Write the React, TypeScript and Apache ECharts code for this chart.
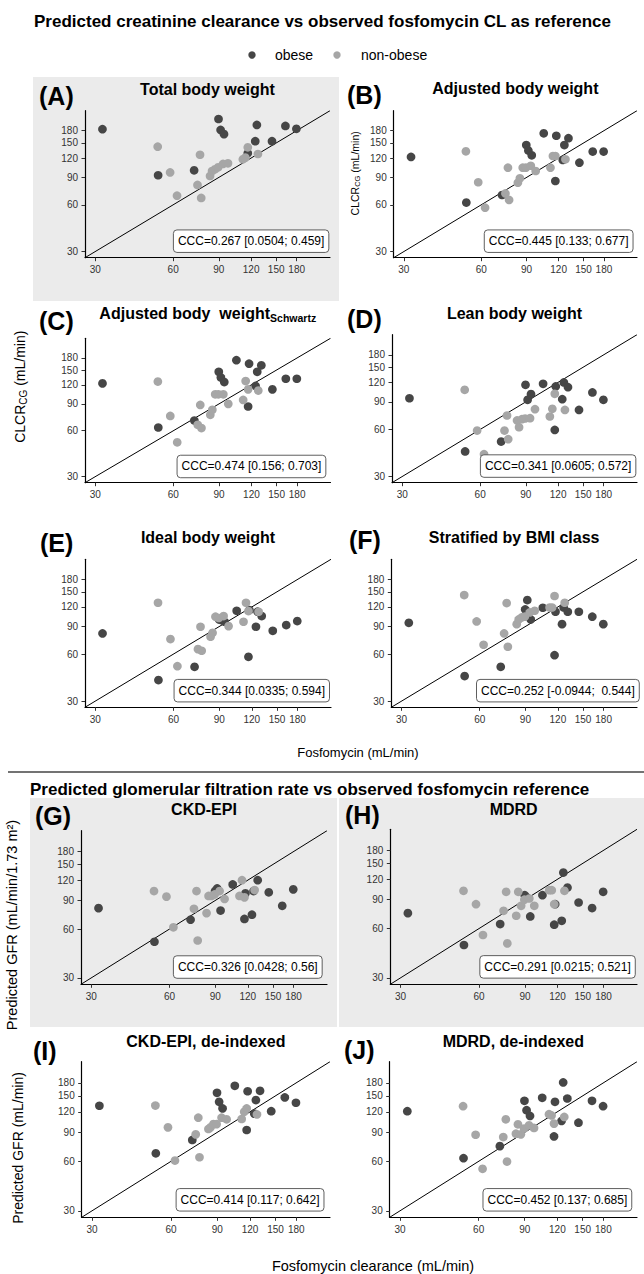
import React, { useEffect, useRef } from "react";
import * as echarts from "echarts";

const FONT = "'Liberation Sans', Arial, Helvetica, sans-serif";
const DARK = "#464646";
const LIGHT = "#a6a6a6";

// Observed fosfomycin clearance (mL/min), x of every panel
const fosfoObese = [32, 52.5, 72.3, 89.8, 91.5, 94.3, 105, 116.5, 117.5, 124.5, 126.3, 131, 144.5, 162.8, 179.5];
const fosfoNonObese = [52.3, 58.4, 62.1, 74.5, 76.2, 77.0, 83.3, 84.8, 87.0, 89.5, 93.5, 97.7, 111.5, 114.0, 116.5, 127.5];

const tickValues = [30, 60, 90, 120, 150, 180];
const axisRange = [27.4, 242];

// (A) Total body weight
const tbwObese = [184, 93, 100, 214, 182, 171, 262, 129, 256, 154, 196, 250, 154, 193, 185];
const tbwNonObese = [142, 97, 68.7, 80.5, 126, 66.4, 92, 99, 101.5, 104.6, 110, 111, 117.7, 120.7, 140.6, 127.4];
// (B) Adjusted body weight
const abwObese = [122, 62, 69.4, 145.5, 134, 125, 173, 85.4, 167, 116.6, 145.5, 161, 112, 132, 132];
const abwNonObese = [132.5, 83.8, 57.5, 71, 104, 64.5, 83.3, 88.9, 104, 104, 107, 99, 104, 123.7, 123.7, 117.8];
// (C) Adjusted body weight Schwartz
const abwsObese = [122.6, 63, 70, 146, 134, 125, 174, 86.5, 165, 118, 146, 161, 112, 131.5, 131.5];
const abwsNonObese = [126, 75, 50.4, 65.7, 88.6, 62.5, 76.3, 82.3, 104, 104, 104, 90, 95.5, 127, 112, 110];
// (D) Lean body weight
const lbwObese = [95, 43.4, 50.2, 115.7, 92.8, 100.9, 117.5, 59.6, 113, 93.7, 119.8, 111.8, 80, 103.4, 92.8];
const lbwNonObese = [107.5, 59, 41.7, 59, 73.7, 52, 68.5, 62, 69.8, 70.5, 70.8, 80.9, 72.6, 81.3, 101.4, 80];
// (E) Ideal body weight
const ibwObese = [81.3, 40.9, 49.7, 99.9, 99, 96.5, 113.5, 57.6, 114.6, 89.7, 112, 105, 84.5, 91.9, 97.5];
const ibwNonObese = [127.7, 74.8, 50.2, 64.5, 89.7, 63, 77.4, 82, 104, 102, 105, 90.5, 96.5, 127.7, 113, 111.8];
// (F) Stratified by BMI class
const bmiObese = [95, 43.4, 49.7, 115.7, 132.8, 99.9, 118.6, 59, 111.8, 93.2, 119, 111.8, 111.8, 104, 93.2];
const bmiNonObese = [143, 97, 68.8, 81.3, 127, 66.8, 93.2, 99.9, 102.9, 104, 110.7, 113.5, 119, 119, 141, 127.7];
// (G) CKD-EPI
const ckdObese = [80.7, 50.1, 68.5, 102.8, 106.7, 78, 112.9, 69.2, 99.5, 73.5, 102.8, 120, 101, 83.4, 105.3];
const ckdNonObese = [102.8, 95, 61.5, 80, 102.8, 51, 75.2, 95.9, 95.9, 98, 102.8, 92, 95.9, 120, 94, 104.3];
// (H) MDRD
const mdrdObese = [74.5, 47.6, 63.9, 95.9, 92.8, 71.1, 95.9, 63.3, 84.5, 66.9, 131.7, 106.7, 86.5, 80, 100.5];
const mdrdNonObese = [101.9, 84.5, 54.8, 77, 100.5, 48.7, 71.8, 100.5, 82.6, 90, 91.5, 82.6, 102.8, 102.8, 84.5, 101.9];
// (I) CKD-EPI, de-indexed
const ckdDeObese = [130.6, 67.1, 80.9, 156.6, 138, 125.8, 172.7, 93, 160, 117, 141.4, 161, 121, 146.8, 136.2];
const ckdDeNonObese = [131, 96.5, 60.6, 87.5, 110.5, 63.5, 94.3, 96.5, 101, 101, 110.5, 108, 108.5, 120, 125.8, 115.7];
// (J) MDRD, de-indexed
const mdrdDeObese = [121, 62.7, 74.2, 140, 122.7, 113.3, 146, 85, 138, 105.6, 181, 144.6, 103, 140, 129.8];
const mdrdDeNonObese = [129.8, 87, 54, 84.3, 108, 59.8, 88.3, 100.7, 87.5, 95, 99.3, 95.7, 116, 114, 101.7, 111.7];

const panelLetters = ["(A)", "(B)", "(C)", "(D)", "(E)", "(F)", "(G)", "(H)", "(I)", "(J)"];
const panelTitles = [
  "Total body weight",
  "Adjusted body weight",
  "Adjusted body  weight",
  "Lean body weight",
  "Ideal body weight",
  "Stratified by BMI class",
  "CKD-EPI",
  "MDRD",
  "CKD-EPI, de-indexed",
  "MDRD, de-indexed",
];
const panelTitleSubs = ["", "", "Schwartz", "", "", "", "", "", "", ""];
const cccTexts = [
  "CCC=0.267 [0.0504; 0.459]",
  "CCC=0.445 [0.133; 0.677]",
  "CCC=0.474 [0.156; 0.703]",
  "CCC=0.341 [0.0605; 0.572]",
  "CCC=0.344 [0.0335; 0.594]",
  "CCC=0.252 [-0.0944;  0.544]",
  "CCC=0.326 [0.0428; 0.56]",
  "CCC=0.291 [0.0215; 0.521]",
  "CCC=0.414 [0.117; 0.642]",
  "CCC=0.452 [0.137; 0.685]",
];
const cccAnchor = [120, 35];
const legendNames = ["obese", "non-obese"];
const mainTitle1 = "Predicted creatinine clearance vs observed fosfomycin CL as reference";
const mainTitle2 = "Predicted glomerular filtration rate vs observed fosfomycin reference";
const xTitle1 = "Fosfomycin (mL/min)";
const xTitle2 = "Fosfomycin clearance (mL/min)";

const panelObese = [tbwObese, abwObese, abwsObese, lbwObese, ibwObese, bmiObese, ckdObese, mdrdObese, ckdDeObese, mdrdDeObese];
const panelNonObese = [tbwNonObese, abwNonObese, abwsNonObese, lbwNonObese, ibwNonObese, bmiNonObese, ckdNonObese, mdrdNonObese, ckdDeNonObese, mdrdDeNonObese];

// layout: [left, top, right, bottom] of each plotting area (px)
const GRIDS = [
  [85, 110.7, 330, 257.7],
  [393.7, 110.7, 637, 257.7],
  [85, 338.3, 330.5, 482.7],
  [392, 334.7, 637, 482.7],
  [85, 559.3, 331, 707.3],
  [391.3, 559.3, 637, 707.3],
  [81, 830.7, 327, 984.3],
  [390.3, 829.3, 637, 984.3],
  [81.7, 1061.7, 330, 1217.3],
  [389.7, 1061.7, 637, 1217.3],
];
const LETTER_POS = [
  [39, 96], [347, 94.5], [39, 320.5], [347, 319], [40, 542.5],
  [349, 539.5], [35, 816], [345, 815], [33, 1051], [344, 1050],
];
const TITLE_Y = [89, 88.3, 313.7, 313.5, 537.3, 537.3, 809, 809, 1041, 1041];
const GRAY_BOXES = [
  [33, 77, 306, 224],
  [30, 798, 307, 229],
  [339, 798, 305, 229],
];

let measureCtx: CanvasRenderingContext2D | null = null;
function textWidth(t: string, size: number, bold = false) {
  if (!measureCtx) measureCtx = document.createElement("canvas").getContext("2d");
  if (!measureCtx) return t.length * size * 0.55;
  measureCtx.font = `${bold ? "bold " : ""}${size}px ${FONT}`;
  return measureCtx.measureText(t).width;
}

function txt(x: number, y: number, text: string, size: number, opts: any = {}) {
  const align = opts.align || "left";
  return {
    type: "text",
    x,
    y,
    z: opts.z ?? 50,
    rotation: opts.rotation || 0,
    style: {
      text,
      fontSize: size,
      fontWeight: opts.bold ? "bold" : "normal",
      fontFamily: FONT,
      fill: opts.color || "#000",
      align,
      textAlign: align,
      verticalAlign: "middle",
      textVerticalAlign: "middle",
    },
  };
}

function rotatedLabel(cx: number, cy: number, parts: { t: string; size: number; dy: number }[]) {
  const widths = parts.map((p) => textWidth(p.t, p.size));
  const W = widths.reduce((a, b) => a + b, 0);
  let cur = -W / 2;
  const children = parts.map((p, i) => {
    const el = txt(cur, p.dy, p.t, p.size);
    cur += widths[i];
    return el;
  });
  return { type: "group", x: cx, y: cy, rotation: Math.PI / 2, z: 50, children };
}

const ln = Math.log;
const tickLn = tickValues.map((v) => ln(v));
const lnMin = ln(axisRange[0]);
const lnMax = ln(axisRange[1]);

function pts(xs: number[], ys: number[]) {
  return xs.map((x, i) => [ln(x), ln(ys[i])]);
}

export default function App() {
  const ref = useRef<HTMLDivElement>(null);
  useEffect(() => {
    if (!ref.current) return;
    const chart = echarts.init(ref.current, undefined, { renderer: "svg" });

    const grid = GRIDS.map((g) => ({
      left: g[0],
      top: g[1],
      width: g[2] - g[0],
      height: g[3] - g[1],
      containLabel: false,
      outerBoundsMode: "none",
    }));
    const axisCommon = (i: number) => ({
      type: "value",
      gridIndex: i,
      min: lnMin,
      max: lnMax,
      splitLine: { show: false },
      axisLine: { show: true, onZero: false, lineStyle: { color: "#000", width: 1.2 } },
      axisTick: { show: true, length: 3.5, customValues: tickLn, lineStyle: { color: "#333", width: 1 } },
      axisLabel: {
        customValues: tickLn,
        formatter: (v: number) => String(Math.round(Math.exp(v))),
        fontSize: 10,
        color: "#333",
        margin: 7,
        fontFamily: FONT,
      },
    });
    const xAxis = GRIDS.map((_, i) => axisCommon(i));
    const yAxis = GRIDS.map((_, i) => axisCommon(i));
    const series: any[] = [];
    GRIDS.forEach((_, i) => {
      series.push({
        type: "line",
        xAxisIndex: i,
        yAxisIndex: i,
        data: [[lnMin, lnMin], [lnMax, lnMax]],
        symbol: "none",
        silent: true,
        lineStyle: { color: "#000", width: 1 },
        z: 1,
      });
      series.push({
        type: "scatter",
        name: legendNames[0],
        xAxisIndex: i,
        yAxisIndex: i,
        data: pts(fosfoObese, panelObese[i]),
        symbolSize: 8.7,
        clip: true,
        itemStyle: { color: DARK, opacity: 1 },
        z: 2,
      });
      series.push({
        type: "scatter",
        name: legendNames[1],
        xAxisIndex: i,
        yAxisIndex: i,
        data: pts(fosfoNonObese, panelNonObese[i]),
        symbolSize: 8.7,
        clip: true,
        itemStyle: { color: LIGHT, opacity: 1 },
        z: 3,
      });
    });

    chart.setOption({
      animation: false,
      backgroundColor: "#fff",
      textStyle: { fontFamily: FONT },
      grid,
      xAxis,
      yAxis,
      series,
    });

    const els: any[] = [];
    GRAY_BOXES.forEach((b) => {
      els.push({ type: "rect", z: -10, shape: { x: b[0], y: b[1], width: b[2], height: b[3] }, style: { fill: "#ebebeb" } });
    });
    // main titles and legend
    els.push(txt(322.5, 21, mainTitle1, 17, { bold: true, align: "center" }));
    els.push({ type: "circle", z: 50, shape: { cx: 252, cy: 55, r: 3.7 }, style: { fill: DARK } });
    els.push(txt(275, 55, legendNames[0], 14));
    els.push({ type: "circle", z: 50, shape: { cx: 337, cy: 55, r: 3.7 }, style: { fill: LIGHT } });
    els.push(txt(361, 55, legendNames[1], 14));
    els.push(txt(358, 752, xTitle1, 13, { align: "center" }));
    els.push({ type: "line", z: 50, shape: { x1: 8, y1: 772, x2: 644, y2: 772 }, style: { stroke: "#444", lineWidth: 1.5 } });
    els.push(txt(30, 789, mainTitle2, 17, { bold: true }));
    els.push(txt(373, 1266, xTitle2, 14.5, { align: "center" }));

    // y-axis titles
    els.push(rotatedLabel(355, 173.3, [
      { t: "CLCR", size: 10.5, dy: 0 },
      { t: "CG", size: 7.5, dy: 2.5 },
      { t: " (mL/min)", size: 10.5, dy: 0 },
    ]));
    els.push(rotatedLabel(20, 386.7, [
      { t: "CLCR", size: 14, dy: 0 },
      { t: "CG", size: 10, dy: 3.5 },
      { t: " (mL/min)", size: 14, dy: 0 },
    ]));
    els.push(txt(12, 925, "Predicted GFR (mL/min/1.73 m²)", 14.5, { align: "center", rotation: Math.PI / 2 }));
    els.push(txt(18, 1148, "Predicted GFR (mL/min)", 14, { align: "center", rotation: Math.PI / 2 }));

    GRIDS.forEach((g, i) => {
      // letter
      els.push(txt(LETTER_POS[i][0], LETTER_POS[i][1], panelLetters[i], 25, { bold: true }));
      // title
      const cx = (g[0] + g[2]) / 2;
      const main = panelTitles[i];
      const sub = panelTitleSubs[i];
      const mw = textWidth(main, 16, true);
      const sw = sub ? textWidth(sub, 10.5, true) : 0;
      const x0 = cx - (mw + sw) / 2;
      els.push(txt(x0, TITLE_Y[i], main, 16, { bold: true }));
      if (sub) els.push(txt(x0 + mw, TITLE_Y[i] + 4, sub, 10.5, { bold: true }));
      // CCC label
      const p = chart.convertToPixel({ xAxisIndex: i, yAxisIndex: i } as any, [ln(cccAnchor[0]), ln(cccAnchor[1])]) as number[];
      const tw = textWidth(cccTexts[i], 12);
      const bw = tw + 9;
      const bh = 22.5;
      els.push({
        type: "rect",
        z: 60,
        shape: { x: p[0] - bw / 2, y: p[1] - bh / 2, width: bw, height: bh, r: 3.5 },
        style: { fill: "#fff", stroke: "#4d4d4d", lineWidth: 0.9 },
      });
      els.push(txt(p[0], p[1], cccTexts[i], 12, { align: "center", z: 61 }));
    });

    chart.setOption({ graphic: { elements: els } });

    return () => chart.dispose();
  }, []);

  return (
    <div
      ref={ref}
      style={{ position: "absolute", left: 0, top: 0, width: 644, height: 1274 }}
    />
  );
}
